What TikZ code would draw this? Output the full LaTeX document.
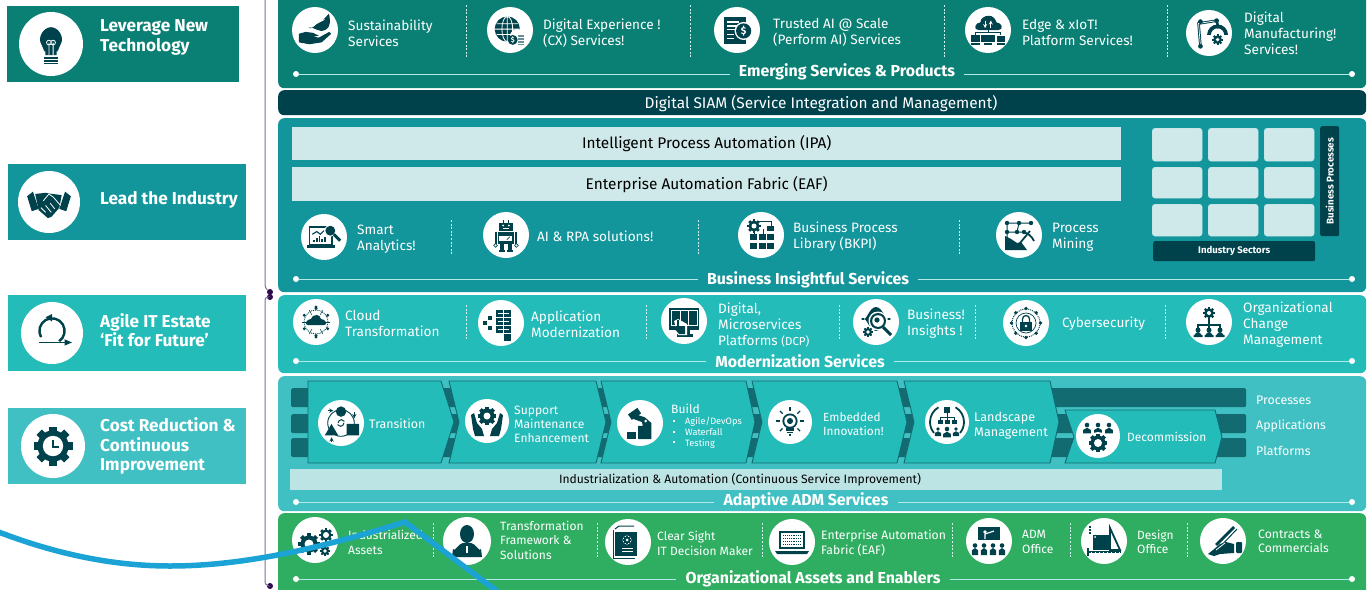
\documentclass[tikz,border=0pt]{standalone}
\usepackage{fontspec}
\setmainfont{Fira Sans}
\usetikzlibrary{calc}
\definecolor{cLever}{HTML}{0A8074}
\definecolor{cLead}{HTML}{12959B}
\definecolor{cAgile}{HTML}{23BCB9}
\definecolor{cCost}{HTML}{40C0C2}
\definecolor{cGreen}{HTML}{2FAE62}
\definecolor{cDark}{HTML}{00424C}
\definecolor{cBar}{HTML}{136B72}
\definecolor{cPale}{HTML}{CFE8E9}
\definecolor{cPale2}{HTML}{BDE4E5}
\definecolor{cBlue}{HTML}{1BA3D6}
\definecolor{cBrack}{HTML}{7E7398}
\definecolor{cDot}{HTML}{2D0A4E}
\tikzset{
  x=1pt,y=-1pt,
  disc/.style={circle,fill=white,draw=none,inner sep=0},
  lab/.style={text=white,anchor=west,align=left,inner sep=0,yshift=-.8pt,font=\fontsize{13.6}{16}\selectfont},
  side/.style={text=white,anchor=west,align=left,inner sep=0,yshift=-1pt,font=\fontsize{17.2}{19.3}\selectfont\bfseries},
  sect/.style={text=white,inner sep=9pt,yshift=-1pt,font=\fontsize{15.9}{16}\selectfont\bfseries},
  sline/.style={draw=white!65!cAgile,line width=1pt},
  sdot/.style={circle,fill=white,inner sep=0,minimum size=6pt},
  sep/.style={draw=white!80!cAgile,dash pattern=on 2pt off 1.6pt,line width=0.9pt},
  bar/.style={fill=cPale,text=black,font=\fontsize{15.4}{16}\selectfont},
  tile/.style={fill=cPale,rounded corners=3pt,draw=cPale2,line width=.4pt},
  chev/.style={fill=cAgile,draw=cBar,line width=.9pt},
  track/.style={fill=cBar,rounded corners=1.5pt},
  ink/.style={fill=cDark,draw=none},
  wink/.style={fill=white,draw=none},
  wk/.style={draw=white,line width=.8pt,fill=none},
  bracket/.style={draw=cBrack,line width=1pt,rounded corners=3pt},
  bdot/.style={circle,fill=cDot,inner sep=0,minimum size=6pt},
}
\newcommand{\bx}[7]{\pgfmathsetmacro\bxw{#4-#2}\pgfmathsetmacro\bxh{#5-#3}%
  \node[#6,minimum width=\bxw pt,minimum height=\bxh pt,inner sep=0,anchor=north west] (#1) at (#2,#3) {#7};}
\newcommand{\panel}[6]{\pgfmathsetmacro\bxw{#4-#2}\pgfmathsetmacro\bxh{#5-#3}%
  \node[fill=#6,rounded corners=6pt,minimum width=\bxw pt,minimum height=\bxh pt,inner sep=0,anchor=north west] (#1) at (#2,#3) {};}
\newcommand{\ic}[6]{\node[disc,minimum size=#4*2pt] (#1) at (#2,#3) {};\pic[scale=#6] at (#1) {#5};}
\newcommand{\sectn}[5]{%
  \node[sect] (#1t) at (#2,#3) {#5};
  \node[sdot] (#1l) at (296,#4) {};
  \node[sdot] (#1r) at (1352,#4) {};
  \draw[sline] (#1l) -- (#1l -| #1t.west);
  \draw[sline] (#1t.east |- #1l) -- (#1r);}
\newcommand{\sepl}[3]{\coordinate (s#1a) at (#1,#2);\coordinate (s#1b) at (#1,#3);\draw[sep] (s#1a) -- (s#1b);}
\newcommand{\gearat}[4]{%
  \foreach \a in {0,45,...,315}{\fill[ink,shift={(#1,#2)},rotate=\a] (-#3*.24,-#3*1.25) rectangle (#3*.24,0);}
  \fill[ink] (#1,#2) circle (#3);\fill[wink] (#1,#2) circle (#4);}
\newcommand{\person}[3]{\fill[ink] (#1,#2) circle (#3*.6);\fill[ink] (#1-#3,#2+#3*2.2) -- (#1-#3,#2+#3*1.2) to[out=-90,in=180] (#1,#2+#3*.7) to[out=0,in=-90] (#1+#3,#2+#3*1.2) -- (#1+#3,#2+#3*2.2) -- cycle;}
\tikzset{
 pics/bulb/.style={code={
  \fill[ink] (-4,8) -- (-4,5) to[out=-100,in=-60,looseness=1] (-7,0) to[out=120,in=180] (0,-12) to[out=0,in=60] (7,0) to[out=-120,in=-80] (4,5) -- (4,8) -- cycle;
  \draw[wk] (-1.5,8) -- (-1.5,-1) (1.5,8) -- (1.5,-1) (-1.5,-1) circle (1.7) (1.5,-1) circle (1.7);
  \foreach \y in {9.5,11.5,13.5}{\fill[ink] (-5,\y) rectangle (5,\y+1);}}},
 pics/shake/.style={code={
  \fill[ink] (-19,-5) -- (-14,-9) -- (-9,6) -- (-15,8) -- cycle;
  \fill[ink] (19,-5) -- (14,-9) -- (9,6) -- (15,8) -- cycle;
  \fill[ink] (-12,-7) -- (-3,-8) -- (3,-7) -- (11,-6) -- (9,5) -- (2,13) -- (-1,14) -- (-9,7) -- cycle;
  \draw[wk] (-5,-1) -- (0,-7) -- (4,-4) -- (10,3) (-7,5) -- (-3,9) (-3,3) -- (2,9) (1,1) -- (5,6);}},
 pics/loop/.style={code={
  \draw[cDark,line width=2.4pt] (-10.4,4) arc[start angle=150,end angle=415,radius=12];
  \fill[ink] (-6,-15) -- (0,-18) -- (0,-11) -- cycle;
  \draw[cDark,line width=1.8pt] (-12,9) -- (13,9);
  \fill[ink] (12,6) -- (19,9) -- (12,12) -- cycle;}},
 pics/gearclock/.style={code={\gearat{0}{0}{13}{8.5}
  \draw[cDark,line width=2pt] (0,-5) -- (0,1) -- (5,1);}},
 pics/hand/.style={code={
  \fill[ink] (-17,4) -- (-10,2) to[out=-10,in=180] (-2,3) -- (4,6) -- (-2,7) -- (4,8) -- (15,2) -- (17,4) -- (7,13) -- (-6,15) -- (-17,13) -- cycle;
  \fill[ink] (-7,-3) to[out=-60,in=200] (6,-9) to[out=20,in=80] (15,-16) to[out=-80,in=30] (11,0) to[out=210,in=0] (-7,-3) -- cycle;
  \draw[wk] (-6,-3) -- (10,-11);}},
 pics/globe/.style={code={
  \fill[ink] (-3,-1) circle (14);
  \draw[wk] (-3,-1) ellipse (6 and 14) (-17,-1) -- (11,-1) (-15,-7) -- (9,-7) (-15,5) -- (9,5) (-3,-15) -- (-3,13);
  \fill[wink] (8,7) circle (8);\fill[ink] (3,11) circle (5.5);
  \node[text=white,font=\fontsize{7}{7}\selectfont\bfseries,inner sep=0] at (3,11) {\$};
  \foreach \y in {6,9,12,15}{\fill[cDark!60] (9,\y) rectangle (15,\y+2);}}},
 pics/docdollar/.style={code={
  \fill[ink] (-14,-14) rectangle (9,15);
  \foreach \y in {-9,-5,-1}{\fill[wink] (-11,\y) rectangle (2,\y+1.5);}
  \foreach \y in {4,8}{\fill[wink] (-11,\y) rectangle (-3,\y+1.5);}
  \fill[wink] (7,1) circle (9.5);\fill[ink] (7,1) circle (8);
  \node[text=white,font=\fontsize{10}{10}\selectfont\bfseries,inner sep=0] at (7,1) {\$};}},
 pics/edge/.style={code={
  \fill[ink] (-10,0) to[out=180,in=180,looseness=1.8] (-8,-8) to[out=90,in=180] (1,-15) to[out=0,in=110] (9,-8) to[out=0,in=0,looseness=1.8] (11,0) -- cycle;
  \draw[wk,-stealth] (-3,-10) -- (-3,-2);\draw[wk,-stealth] (3,-2) -- (3,-10);
  \draw[cDark,line width=.8pt] (0,0) -- (0,3) (-13,5) -- (-13,3) -- (13,3) -- (13,5);
  \fill[ink] (-18,5) rectangle (-8,13);\fill[ink] (-7,5) rectangle (7,13);\fill[ink] (9,6) rectangle (18,13);
  \fill[ink] (-18,14) rectangle (-8,15.5);\fill[ink] (-4,14) rectangle (4,15.5);\fill[ink] (9,14) rectangle (18,15.5);}},
 pics/robotarm/.style={code={
  \draw[cDark,line width=2.6pt] (-9,14) -- (-11,-10) -- (8,-13) -- (10,-5);
  \draw[white,line width=.7pt] (-9,14) -- (-11,-10) -- (8,-13);
  \fill[ink] (-9,-12) circle (2.5) (8,-13) circle (2.5) (-9,14) circle (2.5);
  \fill[ink] (-2,2) arc[start angle=180,end angle=360,radius=11] -- (16,2) arc[start angle=360,end angle=180,radius=7] -- cycle;
  \gearat{9}{7}{4.5}{2}}},
 pics/laptopmag/.style={code={
  \draw[cDark,line width=1.4pt] (-16,-11) rectangle (9,8);
  \fill[ink] (-19,9) rectangle (12,12);
  \foreach \x/\h in {-12/3,-9/5,-6/7,-3/4,0/6}{\fill[ink] (\x,6) rectangle (\x+2,6-\h);}
  \draw[cDark,line width=1.1pt] (-13,-3) -- (-8,-6) -- (-4,-3) -- (0,-7);
  \fill[wink] (7,-7) circle (6.5);\fill[ink] (7,-7) circle (5.5);\draw[cDark,line width=3pt] (11,-3) -- (18,4);}},
 pics/robot/.style={code={
  \draw[cDark,line width=.9pt] (-3,-16) -- (-3,-13) (3,-16) -- (3,-13);
  \fill[ink] (-7,-13) rectangle (7,-4);\fill[wink] (-3,-10) circle (1.1) (3,-10) circle (1.1);\fill[wink] (-3,-7) rectangle (3,-6.2);
  \fill[ink] (-8,-3) rectangle (8,9);\fill[ink] (-12,-3) rectangle (-9.5,9);\fill[ink] (9.5,-3) rectangle (12,9);
  \fill[wink] (-7,1) rectangle (6,6);\draw[cDark,line width=.7pt] (1,5) -- (4,2);
  \fill[ink] (-6,9) rectangle (-2,16);\fill[ink] (2,9) rectangle (6,16);\fill[ink] (-7,16) rectangle (-1,18);\fill[ink] (1,16) rectangle (7,18);
  \draw[cDark,line width=.6pt] (-11,11) circle (2) (11,11) circle (2);}},
 pics/bkpi/.style={code={\gearat{-7}{-9}{5.5}{2.5}
  \draw[cDark,line width=.9pt] (-2,-14) -- (10,-14) -- (10,-8) (-7,-3) -- (-7,-1) (2,-6) -- (2,-1);
  \foreach \x in {-11,-2,6}{\foreach \y in {-1,8}{\fill[ink] (\x,\y) rectangle (\x+7,\y+6);}}
  \fill[ink] (6,-9) rectangle (13,-4);}},
 pics/mining/.style={code={
  \draw[cDark,line width=1pt] (-12,-12) -- (12,-12) (-12,-12) -- (-12,-3) -- (5,-3) (0,-12) -- (-2,-3) (-12,-3) -- (-12,6);
  \fill[ink] (-12,-12) circle (2.2) (0,-12) circle (2.2) (12,-12) circle (2.2) (-12,-3) circle (2.2) (-2,-3) circle (2.2) (5,-3) circle (2.2);
  \draw[cDark,line width=1.8pt] (1,8) -- (11,-4);
  \draw[cDark,line width=1.8pt] (4,-3) to[bend left=25] (15,6);
  \fill[ink] (-14,1) -- (-8,4) -- (-2,8) -- (2,7) -- (8,15) -- (-14,15) -- cycle;}},
 pics/cloudt/.style={code={
  \draw[cDark,densely dotted,line width=.9pt] (0,0) circle (12);
  \foreach \a in {0,60,...,300}{\draw[cDark,line width=.5pt] (0,0) -- (\a:14);\fill[ink] (\a+30:13.5) circle (1.6);}
  \foreach \a in {90,270}{\fill[ink] (\a:15) circle (1.6);}
  \fill[wink] (0,0) circle (8);
  \fill[ink] (-8,3) to[out=180,in=180,looseness=1.7] (-5,-3) to[out=90,in=180] (1,-7) to[out=0,in=110] (5,-3) to[out=0,in=0,looseness=1.7] (8,3) -- cycle;}},
 pics/appmod/.style={code={
  \foreach \p in {{-18,-2},{-13,3},{-13,-7}}{\fill[ink] (\p) rectangle +(4,4);}
  \foreach \p in {{-5,-13},{3,-13},{-5,-5},{3,-5},{-5,3},{3,3},{3,11}}{\fill[ink] (\p) rectangle +(7,7);}
  \draw[wk] (-3,-10) -- (8,-10) (-3,-2) -- (8,-2) (-3,6) -- (8,6);}},
 pics/dcp/.style={code={
  \fill[ink] (-15,-13) rectangle (15,9);
  \draw[white,line width=.8pt] (-13,-11) rectangle (13,4) (-4,-11) -- (-4,4) (4,-11) -- (4,4);
  \fill[ink] (-4,9) rectangle (6,13);\fill[ink] (-7,13) rectangle (9,16);
  \fill[wink] (-10,0) -- (-6,-2) -- (3,3) -- (3,14) -- (-6,14) -- cycle;
  \fill[ink] (-7,-1) rectangle (-5,6);\fill[ink] (-8,5) -- (1,5) -- (1,13) -- (-5,13) -- (-10,7) -- cycle;}},
 pics/eye/.style={code={
  \fill[ink] (-15,-3) to[out=-50,in=180] (0,-15) to[out=0,in=-130] (15,-3) to[out=130,in=0] (0,9) to[out=180,in=50] (-15,-3) -- cycle;
  \fill[wink] (-8,-3) to[out=-40,in=180] (-1,-10) to[out=0,in=-140] (8,-3) to[out=140,in=0] (-1,6) to[out=180,in=40] (-8,-3) -- cycle;
  \fill[wink] (2,-1) circle (9.5);\fill[ink] (2,-1) circle (8);\fill[wink] (2,-1) circle (5.8);\fill[ink] (1,-2) circle (2.6);
  \draw[cDark,line width=3pt] (7,5) -- (15,13);
  \fill[wink] (-8,10) circle (6.5);\gearat{-8}{10}{4}{1.8}}},
 pics/lockc/.style={code={
  \draw[cDark,densely dotted,line width=1pt] (0,0) circle (14);\draw[cDark,line width=.7pt] (0,0) circle (10);
  \foreach \a in {0,45,...,315}{\fill[ink] (\a:14.5) circle (1.8);}
  \draw[cDark,line width=1.3pt] (-3.5,-1) -- (-3.5,-4) arc[start angle=180,end angle=360,radius=3.5] -- (3.5,-1);
  \fill[ink] (-6,-1) rectangle (6,8);\fill[wink] (0,3) circle (1.4);}},
 pics/hier/.style={code={
  \gearat{0}{-9}{4.8}{2}
  \draw[cDark,line width=1.5pt] (0,-3) -- (0,3) (-11,7) -- (-11,3) -- (11,3) -- (11,7) (0,3) -- (0,7);
  \foreach \x in {-11,0,11}{\fill[ink] (\x,8) circle (2.5);\fill[ink] (\x-4.5,15) -- (\x-4.5,13) to[out=-90,in=180] (\x,10) to[out=0,in=-90] (\x+4.5,13) -- (\x+4.5,15) -- cycle;}}},
 pics/trans/.style={code={
  \draw[cDark,line width=.9pt] (0,0) circle (14);
  \fill[wink] (0,0) circle (9);
  \fill[ink] (0,-12) circle (5.5);
  \fill[ink] (-17,13) -- (-10,1) -- (-3,13) -- cycle;
  \fill[ink,rounded corners=.5pt] (6,1) rectangle (19,13);
  \draw[cDark,line width=1pt] (3,0) arc[start angle=0,end angle=150,radius=3.5];
  \draw[cDark,line width=1pt] (-3,0) arc[start angle=180,end angle=330,radius=3.5];
  \draw[cDark,line width=.9pt,-stealth] (-14,-13) -- (-8,-13);\draw[cDark,line width=.9pt,-stealth] (14,-12) -- (14,-5);\draw[cDark,line width=.9pt,-stealth] (-10,20) -- (-10,15);}},
 pics/support/.style={code={\gearat{0}{-5}{7.5}{3.5}
  \fill[ink] (-16,-6) -- (-13,-8) -- (-10,2) -- (-5,8) -- (-3,15) -- (-12,15) -- (-14,8) -- cycle;
  \fill[ink] (16,-6) -- (13,-8) -- (10,2) -- (5,8) -- (3,15) -- (12,15) -- (14,8) -- cycle;}},
 pics/build/.style={code={
  \fill[ink,rotate around={35:(-6,-10)}] (-12,-13) rectangle (0,-6);
  \fill[ink] (-4,-9) -- (5,-6) -- (12,0) -- (12,17) -- (-2,17) -- (-2,3) -- (3,3) -- (2,-1) -- (-9,-5) -- cycle;
  \fill[wink] (6,-2) circle (1.5);
  \fill[ink] (-14,9) rectangle (-4,17);}},
 pics/embed/.style={code={
  \fill[ink] (0,-1) circle (8);\fill[wink] (0,-1) circle (6);\fill[ink] (0,-1) circle (3.2);
  \fill[ink] (-4,6) rectangle (4,9);\fill[ink] (-3,10) rectangle (3,12);\fill[ink] (-1.5,13) rectangle (1.5,15);
  \foreach \a in {0,45,135,180,225,315,270}{\draw[cDark,line width=1.3pt,shift={(0,-1)}] (\a:11) -- (\a:15);}}},
 pics/landsc/.style={code={
  \draw[cDark,line width=1.8pt] (240:17) arc[start angle=240,end angle=140,radius=17];
  \draw[cDark,line width=1.8pt] (-60:17) arc[start angle=-60,end angle=40,radius=17];
  \fill[ink] (-3,-15) rectangle (3,-9);\draw[cDark,line width=1pt] (0,-9) -- (0,-5) (-7,-1) -- (-7,-5) -- (7,-5) -- (7,-1) (0,-5) -- (0,-1);
  \foreach \x in {-7,0,7}{\fill[ink] (\x-2.5,-2) rectangle (\x+2.5,2);}
  \person{-9}{7}{3.2}\person{9}{7}{3.2}\person{0}{7}{3.8}}},
 pics/decom/.style={code={
  \person{-11}{-11}{3.8}\person{11}{-11}{3.8}\person{0}{-11}{3.8}
  \fill[wink] (0,7) circle (11);\gearat{0}{7}{7.5}{4}}},
 pics/gears/.style={code={\gearat{-6}{4}{8.5}{4.5}\gearat{11}{-5}{5.5}{3}\gearat{10}{11}{4}{1.8}}},
 pics/tieman/.style={code={
  \fill[ink] (0,-7) ellipse (7 and 9);
  \fill[ink] (-15,16) -- (-14,8) to[out=-70,in=180] (-4,2) -- (4,2) to[out=0,in=-110] (14,8) -- (15,16) -- cycle;
  \fill[wink] (-1,5) rectangle (1,12);}},
 pics/docs/.style={code={
  \draw[cDark,line width=1pt] (-13,-13) -- (-9,-16) -- (6,-16);
  \fill[ink] (-13,-10) rectangle (9,14);
  \draw[cDark,line width=1pt] (-15,-12) -- (-15,16) -- (7,16);
  \fill[wink] (-1,-2) circle (4.5);\gearat{-1}{-2}{3.5}{1.5}
  \draw[wk] (-6,6) -- (5,6) (-6,9) -- (5,9);}},
 pics/laptop/.style={code={
  \fill[ink] (-13,-11) rectangle (13,7);\fill[wink] (-11,-9) rectangle (11,5);
  \foreach \y in {-7,-4,-1,2}{\draw[cDark,densely dotted,line width=.9pt] (-9,\y) -- (9,\y);}
  \fill[ink] (-17,9) -- (17,9) -- (15,12) -- (-15,12) -- cycle;}},
 pics/admo/.style={code={
  \fill[ink] (-11,-14) rectangle (11,-1);
  \fill[wink] (-4,-9) circle (1.8);\draw[white,line width=1.1pt] (-4,-2) -- (-4,-7) -- (5,-10);
  \foreach \x in {-14,-5,4,13}{\fill[ink] (\x,4.5) circle (2.3);\fill[ink] (\x-3.2,14) -- (\x-3.2,9) to[out=-90,in=180] (\x,7) to[out=0,in=-90] (\x+3.2,9) -- (\x+3.2,14) -- cycle;}}},
 pics/design/.style={code={
  \fill[ink] (-11,-6) rectangle (5,9);\fill[wink] (-9,-4) circle (1);
  \draw[cDark,line width=1.8pt] (6,-13) -- (16,9) -- (6,9) -- cycle;
  \fill[ink] (-16,10) rectangle (17,12);\fill[ink] (-17,7) rectangle (-15,15);
  \foreach \x in {-13,-9,...,15}{\fill[wink] (\x,10.5) rectangle (\x+1,11.5);}
  \foreach \y in {-15,-12,-9}{\fill[ink] (-15,\y) rectangle (-13,\y+1.8);}}},
 pics/pen/.style={code={
  \draw[cDark,line width=2.8pt] (11,-14) -- (-7,4);
  \draw[cDark,line width=1pt] (14,-12) -- (-5,8);
  \fill[ink] (-15,13) -- (-10,9) -- (-3,3) -- (3,1) -- (11,3) -- (11,12) -- (-3,13) -- (-9,15) -- cycle;
  \fill[ink,rounded corners=1pt] (13,1) rectangle (19,12);
  \draw[white,line width=.8pt] (-7,9) -- (2,2);}},
}
\begin{document}
\begin{tikzpicture}
\useasboundingbox (0,0) rectangle (1368,589);
\clip (0,0) rectangle (1368,589);
\fill[white] (0,0) rectangle (1368,589);

% left column
\bx{bLever}{7}{6}{239}{82}{fill=cLever}{}
\bx{bLead}{8}{164}{246}{240}{fill=cLead}{}
\bx{bAgile}{8}{295}{246}{371}{fill=cAgile}{}
\bx{bCost}{8}{408}{246}{484}{fill=cCost}{}
\ic{iLever}{51}{44}{32}{bulb}{1.4}
\ic{iLead}{49}{202}{31}{shake}{1.15}
\ic{iAgile}{52}{333}{31}{loop}{1.05}
\ic{iCost}{53}{446}{32}{gearclock}{1.2}
\node[side] (tLever) at (100,36.5) {Leverage New\\Technology};
\node[side] (tLead) at (100,199) {Lead the Industry};
\node[side] (tAgile) at (100,329.5) {Agile IT Estate\\‘Fit for Future’};
\node[side] (tCost) at (100,445) {Cost Reduction \&\\Continuous\\Improvement};

% brackets
\node[bdot] (d1) at (270,292) {};
\node[bdot] (d2) at (270,297) {};
\node[bdot] (d3) at (270,586) {};
\coordinate (br1) at (265,-5);
\coordinate (br2) at (265,297);
\draw[bracket] (br1) -- (265,288) -- (d1);
\draw[bracket] (d2) -- (265,297) -- (265,585) -- (d3);

% panels
\panel{pTop}{278}{-8}{1366}{88}{cLever}
\panel{pSiam}{278}{90}{1366}{115}{cDark}
\panel{pBiz}{278}{118}{1366}{292}{cLead}
\panel{pMod}{278}{295}{1366}{373}{cAgile}
\panel{pAdm}{278}{376}{1366}{511}{cCost}
\panel{pOrg}{278}{513}{1366}{600}{cGreen}
\node[text=white,inner sep=0,font=\fontsize{15.4}{16}\selectfont] (tSiam) at (821,104) {Digital SIAM (Service Integration and Management)};

% top row
\ic{a1}{315}{30}{23}{hand}{.95}
\node[lab] (ta1) at (348,32) {Sustainability\\Services};
\sepl{466}{5}{58}
\ic{a2}{510}{30}{23}{globe}{.9}
\node[lab] (ta2) at (543,32) {Digital Experience !\\(CX) Services!};
\sepl{690}{5}{58}
\ic{a3}{737}{30}{23}{docdollar}{.95}
\node[lab] (ta3) at (773,32) {Trusted AI @ Scale\\(Perform AI) Services};
\sepl{944}{5}{58}
\ic{a4}{988}{30}{23}{edge}{.95}
\node[lab] (ta4) at (1022,32) {Edge \& xIoT!\\Platform Services!};
\sepl{1167}{5}{58}
\ic{a5}{1209}{33}{23}{robotarm}{.95}
\node[lab] (ta5) at (1244,32) {Digital\\Manufacturing!\\Services!};
\sectn{sA}{847}{71}{74}{Emerging Services \& Products}

% business
\bx{bIpa}{292}{127}{1121}{160}{bar}{Intelligent Process Automation (IPA)}
\bx{bEaf}{292}{167}{1121}{201}{bar}{Enterprise Automation Fabric (EAF)}
\ic{b1}{324}{237}{23}{laptopmag}{.9}
\node[lab] (tb1) at (357,238.5) {Smart\\Analytics!};
\sepl{451}{220}{255}
\ic{b2}{506}{235}{23}{robot}{.95}
\node[lab] (tb2) at (537,235) {AI \& RPA  solutions!};
\sepl{698}{220}{255}
\ic{b3}{761}{235}{23}{bkpi}{1}
\node[lab] (tb3) at (793,236) {Business Process\\Library (BKPI)};
\sepl{959}{220}{255}
\ic{b4}{1019}{235}{23}{mining}{1}
\node[lab] (tb4) at (1052,236) {Process\\Mining};
\foreach \xa/\xb [count=\i] in {1152/1202,1208/1258,1264/1314}{
  \foreach \ya/\yb [count=\j] in {128/161,167/198,204/236}{
    \bx{g\i\j}{\xa}{\ya}{\xb}{\yb}{tile}{}
  }}
\bx{bInd}{1153}{241}{1315}{261}{fill=cDark,rounded corners=2pt,text=white,font=\fontsize{9.6}{10}\selectfont\bfseries}{Industry Sectors}
\bx{bProc}{1320}{126}{1339}{236}{fill=cDark,rounded corners=2pt}{}
\node[rotate=90,text=white,inner sep=0,font=\fontsize{9.8}{10}\selectfont\bfseries] (tProc) at (bProc) {Business Processes};
\sectn{sB}{808}{279}{279}{Business Insightful Services}

% modernization
\ic{c1}{316}{322}{23}{cloudt}{1}
\node[lab] (tc1) at (345,323) {Cloud\\Transformation};
\sepl{466}{305}{340}
\ic{c2}{501}{323}{23}{appmod}{1}
\node[lab] (tc2) at (531,323) {Application\\Modernization};
\sepl{646}{305}{340}
\ic{c3}{684}{321}{23}{dcp}{1}
\node[lab] (tc3) at (718,324) {Digital,\\Microservices\\Platforms {\fontsize{11.5}{16}\selectfont(DCP)}};
\sepl{839}{305}{340}
\ic{c4}{876}{322}{23}{eye}{1}
\node[lab] (tc4) at (907,323) {Business!\\Insights !};
\sepl{975}{305}{340}
\ic{c5}{1026}{323}{23}{lockc}{1}
\node[lab] (tc5) at (1062,323) {Cybersecurity};
\sepl{1165}{305}{340}
\ic{c6}{1209}{322}{23}{hier}{1}
\node[lab] (tc6) at (1243,324) {Organizational\\Change\\Management};
\sectn{sC}{800}{360}{361}{Modernization Services}

% adaptive ADM
\bx{tr1}{291}{388}{1246}{407}{track}{}
\bx{tr2}{291}{414}{1246}{433}{track}{}
\bx{tr3}{291}{438}{1246}{457}{track}{}
\draw[chev] (308,381) -- (441,381) -- (454,422) -- (441,463) -- (308,463) -- cycle;
\draw[chev] (449,381) -- (596,381) -- (606,422) -- (596,463) -- (449,463) -- (459,422) -- cycle;
\draw[chev] (601,381) -- (746,381) -- (755,422) -- (746,463) -- (601,463) -- (611,422) -- cycle;
\draw[chev] (752,381) -- (897,381) -- (907,422) -- (897,463) -- (752,463) -- (762,422) -- cycle;
\draw[chev] (904,381) -- (1050,381) -- (1059,422) -- (1050,463) -- (904,463) -- (914,422) -- cycle;
\draw[chev] (1065,410) -- (1215,410) -- (1222,437) -- (1215,463) -- (1065,463) -- (1074,437) -- cycle;
\ic{e1}{341}{423}{23}{trans}{.95}
\node[lab,font=\fontsize{12.4}{14}\selectfont] (te1) at (369,423) {Transition};
\ic{e2}{487}{421}{22}{support}{1}
\node[lab,font=\fontsize{12.1}{14}\selectfont] (te2) at (514,424) {Support\\Maintenance\\Enhancement};
\ic{e3}{640}{423}{23}{build}{.95}
\node[lab,font=\fontsize{12.1}{14}\selectfont] (te3) at (671,408) {Build};
\node[lab,font=\fontsize{9.2}{10.6}\selectfont] (te3b) at (685,432) {Agile/DevOps\\Waterfall\\Testing};
\foreach \y in {421,432,442}{\fill[white] (672.5,\y-1) rectangle +(2,2);}
\ic{e4}{790}{422}{22}{embed}{.95}
\node[lab,font=\fontsize{11.8}{14}\selectfont] (te4) at (823,423) {Embedded\\Innovation!};
\ic{e5}{947}{422}{22}{landsc}{1}
\node[lab,font=\fontsize{12.6}{15}\selectfont] (te5) at (974,424.5) {Landscape\\Management};
\ic{e6}{1098}{436}{22}{decom}{1}
\node[lab,font=\fontsize{12}{14}\selectfont] (te6) at (1127,436) {Decommission};
\node[lab,font=\fontsize{12.4}{14}\selectfont] (tp1) at (1256,399) {Processes};
\node[lab,font=\fontsize{12.4}{14}\selectfont] (tp2) at (1256,425) {Applications};
\node[lab,font=\fontsize{12.4}{14}\selectfont] (tp3) at (1256,450) {Platforms};
\bx{bAuto}{290}{469}{1222}{490}{fill=cPale2}{}
\node[text=black,inner sep=0,font=\fontsize{12.1}{14}\selectfont] (tAuto) at (740,480) {Industrialization \& Automation (Continuous Service Improvement)};
\sectn{sD}{806}{500}{502}{Adaptive ADM Services}

% organizational
\ic{f1}{315}{540}{23}{gears}{1}
\node[lab,font=\fontsize{12}{15}\selectfont] (tf1) at (348,541.5) {Industrialized\\Assets};
\sepl{433}{523}{558}
\ic{f2}{467}{541}{24}{tieman}{1}
\node[lab,font=\fontsize{12}{14.7}\selectfont] (tf2) at (500,539.5) {Transformation\\Framework \&\\Solutions};
\sepl{597}{523}{558}
\ic{f3}{628}{542}{23}{docs}{1}
\node[lab,font=\fontsize{12}{15}\selectfont] (tf3) at (657,542.5) {Clear Sight\\IT Decision Maker};
\sepl{762}{523}{558}
\ic{f4}{792}{542}{23}{laptop}{1}
\node[lab,font=\fontsize{12.2}{15}\selectfont] (tf4) at (821,542.5) {Enterprise Automation\\Fabric (EAF)};
\sepl{952}{523}{558}
\ic{f5}{989}{541}{23}{admo}{1}
\node[lab,font=\fontsize{12}{14.5}\selectfont] (tf5) at (1022,541) {ADM\\Office};
\sepl{1070}{523}{558}
\ic{f6}{1104}{541}{23}{design}{1}
\node[lab,font=\fontsize{12}{14.5}\selectfont] (tf6) at (1137,541) {Design\\Office};
\sepl{1187}{523}{558}
\ic{f7}{1223}{541}{23}{pen}{1}
\node[lab,font=\fontsize{12.2}{14.5}\selectfont] (tf7) at (1258,540.5) {Contracts \&\\Commercials};
\sectn{sE}{813}{578}{579}{Organizational Assets and Enablers}

% overlaid blue stroke
\coordinate (w0) at (-4,531);
\coordinate (w1) at (170,566);
\coordinate (w2) at (405,522);
\coordinate (w3) at (498,592);
\draw[cBlue,line width=5.5pt] (w0) .. controls (40,548) and (100,566) .. (w1) .. controls (250,566) and (330,545) .. (w2) -- (w3);
\end{tikzpicture}
\end{document}
